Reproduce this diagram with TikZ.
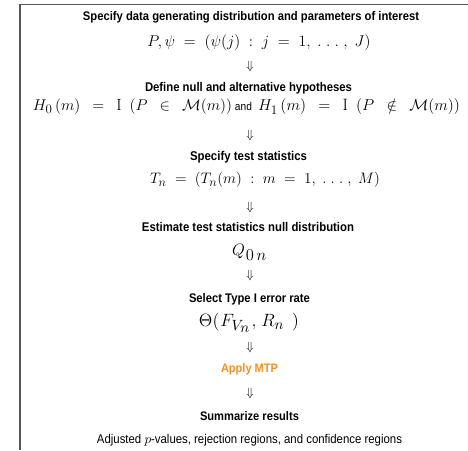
\documentclass[tikz,border=0pt]{standalone}
\usepackage{graphicx}
\usepackage{fontspec}
\setsansfont[FakeStretch=0.9]{Liberation Sans}
\definecolor{mtporange}{HTML}{FF8C1A}
\definecolor{framegray}{HTML}{555555}
\newcommand{\fitw}[2]{\resizebox{#1pt}{!}{#2}}
\newcommand{\bsub}[1]{_{\mbox{\fontsize{12}{14}\selectfont$#1$}}}
\newcommand{\qsub}[1]{_{\mbox{\fontsize{12}{14}\selectfont$#1$}}}
\newcommand{\tsub}[1]{_{\mbox{\fontsize{10}{12}\selectfont$#1$}}}
\newcommand{\gp}{\mkern3mu}
\newcommand{\wg}{\mkern9mu}
\begin{document}
\begin{tikzpicture}[x=1pt,y=-1pt,
  head/.style={inner sep=0pt,font=\sffamily\bfseries\fontsize{10.5}{12}\selectfont},
  plain/.style={inner sep=0pt,font=\sffamily\fontsize{10.5}{12}\selectfont},
  formula/.style={inner sep=0pt,font=\fontsize{15}{17}\selectfont},
  smallformula/.style={inner sep=0pt,font=\fontsize{12}{14}\selectfont},
  darr/.style={inner sep=0pt,font=\fontsize{12}{14}\selectfont},
  frame/.style={draw=framegray,line width=1.2pt}]
\useasboundingbox (0,0) rectangle (468,450);
\draw[frame] (20,450) -- (20,4.5) -- (468,4.5);
\node[head] (h1) at (251,17) {\fitw{336}{Specify data generating distribution and parameters of interest}};
\node[formula] (f1) at (259,43) {\fitw{223}{$P,\psi\;=\;(\psi(j)\;:\;j\;=\;1,\;.\;.\;.\;,\;J)$}};
\node[darr] (a1) at (250,66) {$\Downarrow$};
\node[head] (h2) at (248.5,88) {\fitw{207}{Define null and alternative hypotheses}};
\node[formula] (f2) at (246.5,107) {\fitw{199}{$H\bsub{0}\gp(m)\wg=\wg\mathrm{I}\wg(P\wg\in\wg\mathcal{M}(m))$}\hspace{3pt}{\sffamily\fitw{17}{and}}\hspace{6pt}\fitw{202}{$H\bsub{1}\gp(m)\wg=\wg\mathrm{I}\wg(P\wg\notin\wg\mathcal{M}(m))$}};
\node[darr] (a2) at (250,135) {$\Downarrow$};
\node[head] (h3) at (248.5,157) {\fitw{117}{Specify test statistics}};
\node[formula] (f3) at (265,180) {\fitw{230}{$T\bsub{n}\;=\;(T\bsub{n}(m)\;:\;m\;=\;1,\;.\;.\;.\;,\;M)$}};
\node[darr] (a3) at (250,207) {$\Downarrow$};
\node[head] (h4) at (248,227) {\fitw{212}{Estimate test statistics null distribution}};
\node[smallformula] (f4) at (249.5,252) {\fitw{35}{$Q\mkern1mu\qsub{0\mkern3mu n}$}};
\node[darr] (a4) at (250,275) {$\Downarrow$};
\node[head] (h5) at (249.5,299) {\fitw{121}{Select Type I error rate}};
\node[smallformula] (f5) at (249,323) {\fitw{100}{$\Theta(\mkern1mu F\tsub{V\tsub{n}}\mkern1mu,\mkern2mu R\tsub{n}\mkern8mu)$}};
\node[darr] (a5) at (250,347) {$\Downarrow$};
\node[head,text=mtporange] (h6) at (249.5,369) {\fitw{57}{Apply MTP}};
\node[darr] (a6) at (250,393) {$\Downarrow$};
\node[head] (h7) at (249.5,416) {\fitw{99}{Summarize results}};
\node[plain] (h8) at (249.5,440) {\fitw{305}{Adjusted $p$-values, rejection regions, and confidence regions}};
\end{tikzpicture}
\end{document}
